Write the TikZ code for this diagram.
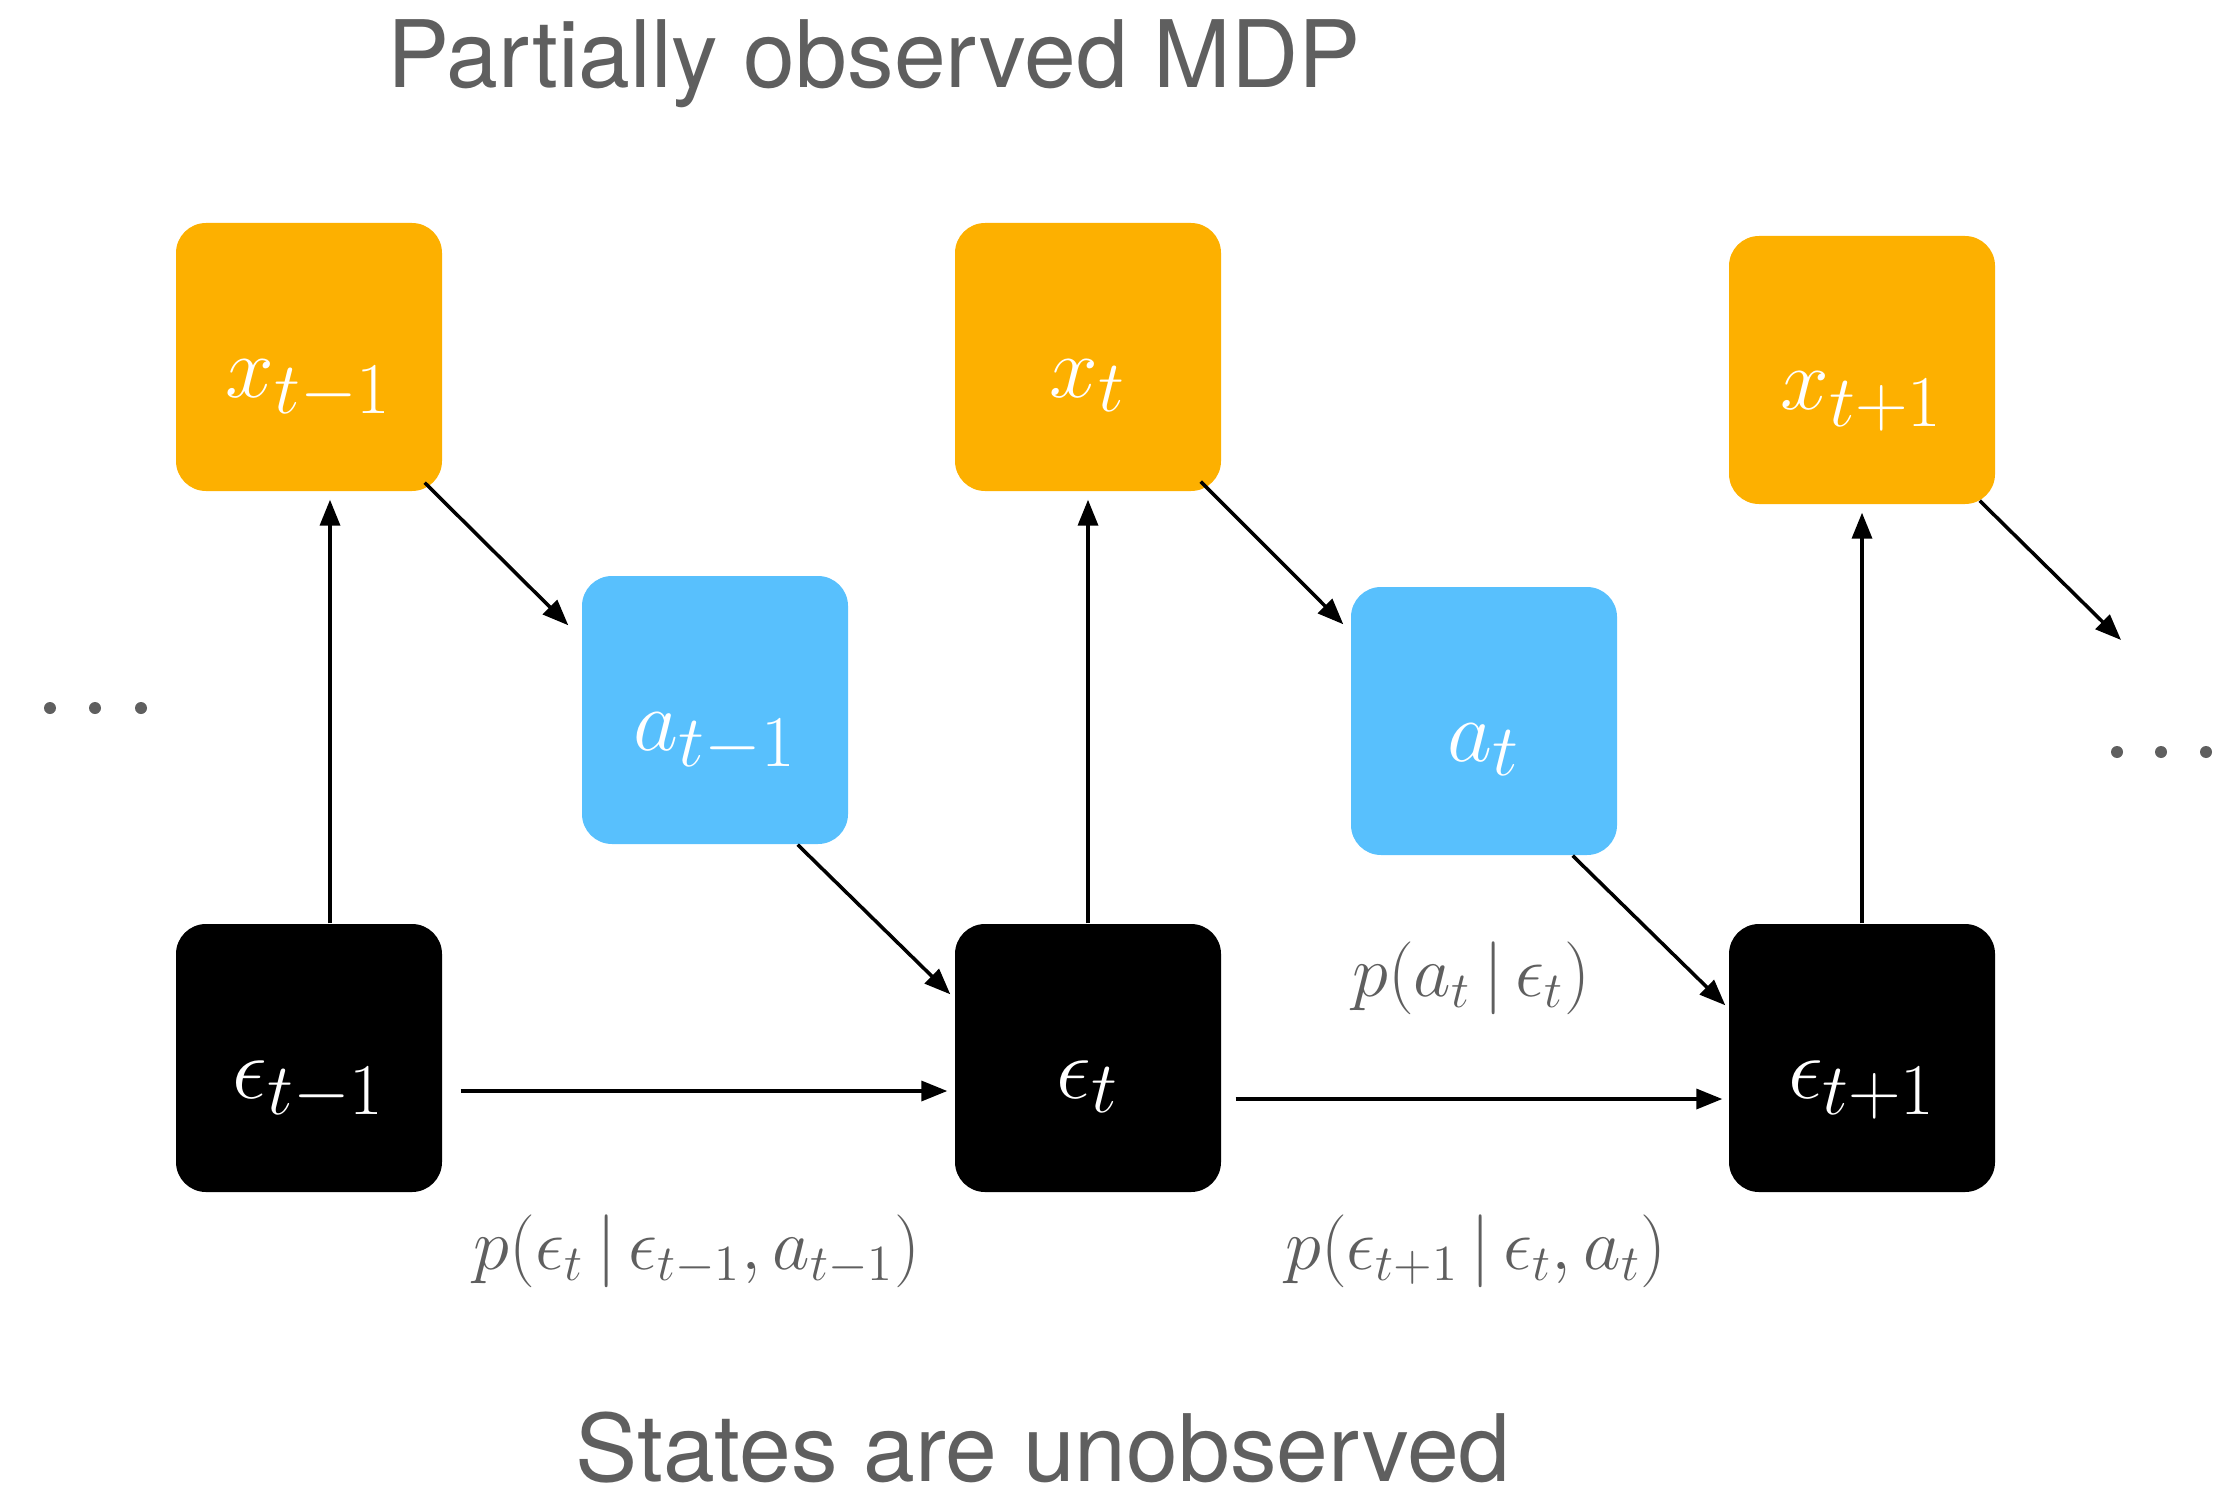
\documentclass[tikz,border=0pt]{standalone}
\usepackage{amsmath}
\usepackage[no-math]{fontspec}
\setmainfont{TeX Gyre Heros}
\usepackage{tikz}
\usetikzlibrary{arrows.meta}
\definecolor{obsorange}{HTML}{FDB000}
\definecolor{actblue}{HTML}{58C0FD}
\definecolor{textgray}{HTML}{5F5F5F}

\begin{document}
\begin{tikzpicture}
    \tikzstyle{box}=[rounded corners=0.3cm, minimum width=2.66cm
    , minimum height=2.68cm, inner sep=0pt, text=white
    , text height=0.8cm, text depth=0cm
    , font=\fontsize{31}{36}\selectfont]
    \tikzstyle{arr}=[line width=1pt, -{Triangle[length=0.26cm,width=0.2cm]}]
    \tikzstyle{lbl}=[text=textgray, font=\fontsize{22}{26}\selectfont]
    \tikzstyle{title}=[text=textgray, anchor=base, inner sep=0pt
    , font=\fontsize{26.5}{30}\selectfont]
    \useasboundingbox (0,0) rectangle (22.29,14.94);
    % Titles
    \node[title] (top) at (8.74,14.06) {Partially observed MDP};
    \node[title] (bot) at (10.43,0.13) {States are unobserved};
    % Draw the observations
    \node[box,fill=obsorange] (x1) at (3.09,11.37) {$x_{t-1}$};
    \node[box,fill=obsorange] (x2) at (10.88,11.37) {$x_t$};
    \node[box,fill=obsorange] (x3) at (18.62,11.24) {$x_{t+1}$};
    % Draw the actions
    \node[box,fill=actblue] (a1) at (7.15,7.84) {$a_{t-1}$};
    \node[box,fill=actblue] (a2) at (14.84,7.73) {$a_t$};
    % Draw the states
    \node[box,fill=black] (e1) at (3.09,4.36) {$\epsilon_{t-1}$};
    \node[box,fill=black] (e2) at (10.88,4.36) {$\epsilon_t$};
    \node[box,fill=black] (e3) at (18.62,4.36) {$\epsilon_{t+1}$};
    \coordinate (nxt) at (21.21,8.54);
    % Arrows
    \draw[arr] ([xshift=0.21cm]e1.north) to ([xshift=0.21cm,yshift=-0.08cm]x1.south);
    \draw[arr] (e2.north) to ([yshift=-0.08cm]x2.south);
    \draw[arr] (e3.north) to ([yshift=-0.08cm]x3.south);
    \draw[arr] ([xshift=-0.18cm,yshift=0.09cm]x1.south east) to ([xshift=-0.13cm,yshift=-0.50cm]a1.north west);
    \draw[arr] ([xshift=-0.21cm,yshift=0.10cm]x2.south east) to ([xshift=-0.07cm,yshift=-0.38cm]a2.north west);
    \draw[arr] ([xshift=-0.16cm,yshift=0.04cm]x3.south east) to (nxt);
    \draw[arr] ([xshift=-0.51cm]a1.south east) to ([xshift=-0.04cm,yshift=-0.71cm]e2.north west);
    \draw[arr] ([xshift=-0.45cm]a2.south east) to ([xshift=-0.03cm,yshift=-0.82cm]e3.north west);
    \draw[arr] ([xshift=0.18cm,yshift=-0.33cm]e1.east) to ([xshift=-0.07cm,yshift=-0.33cm]e2.west);
    \draw[arr] ([xshift=0.14cm,yshift=-0.41cm]e2.east) to ([xshift=-0.06cm,yshift=-0.41cm]e3.west);
    % Labels
    \node[lbl] (pa) at (14.71,5.16) {$p(a_t\,|\,\epsilon_t)$};
    \node[lbl] (pe1) at (6.97,2.43) {$p(\epsilon_t\,|\,\epsilon_{t-1},a_{t-1})$};
    \node[lbl] (pe2) at (14.76,2.43) {$p(\epsilon_{t+1}\,|\,\epsilon_t,a_t)$};
    % Dots
    \foreach \dx in {0.50,0.95,1.41} \fill[textgray] (\dx,7.86) circle (0.06);
    \foreach \dx in {21.17,21.61,22.06} \fill[textgray] (\dx,7.42) circle (0.06);
\end{tikzpicture}
\end{document}
